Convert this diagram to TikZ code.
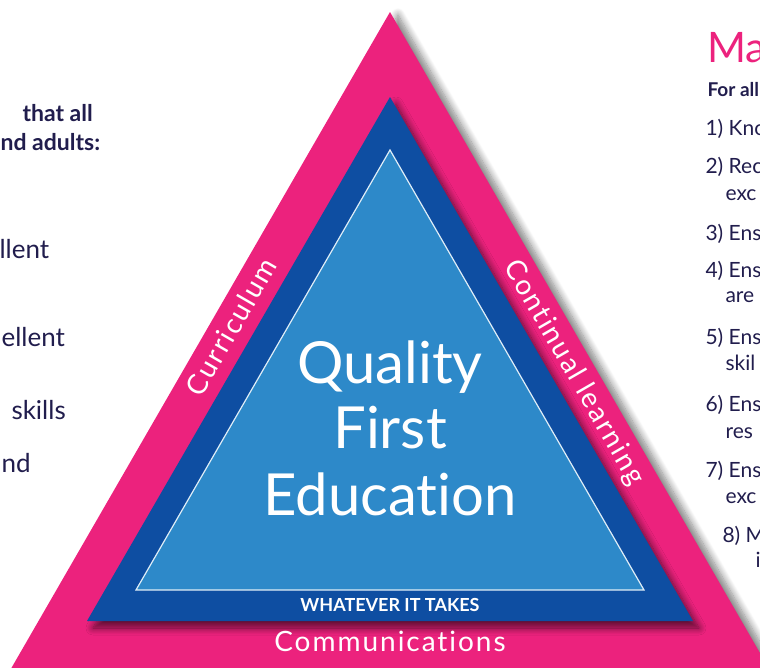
\documentclass[tikz,border=0pt]{standalone}
\usepackage{fontspec}
\setmainfont{Lato}[Ligatures={NoCommon,NoRequired,NoContextual}]
\usetikzlibrary{shadows.blur}
\definecolor{pink}{RGB}{236,34,125}
\definecolor{darkblue}{RGB}{14,78,162}
\definecolor{lightblue}{RGB}{45,137,201}
\definecolor{navy}{RGB}{33,29,77}

\begin{document}
\begin{tikzpicture}[x=1pt,y=-1pt,
        band/.style = {white, font=\fontsize{28}{28}\selectfont\addfontfeatures{LetterSpace=7}},
        big/.style = {white, anchor=base, font=\fontsize{58}{58}\selectfont},
        side/.style = {navy, anchor=base west, font=\fontsize{26}{26}\selectfont},
        lead/.style = {navy, anchor=base west, font=\fontsize{23}{23}\selectfont\bfseries},
        item/.style = {navy, anchor=base west, font=\fontsize{21}{21}\selectfont}]
        \useasboundingbox (0,0) rectangle (760,667);
        \clip (0,0) rectangle (760,667);

        % Outer triangle
        \coordinate (P1) at (390,12);
        \coordinate (P2) at (-14,712);
        \coordinate (P3) at (794,712);
        \fill[pink, blur shadow={shadow xshift=8pt, shadow yshift=-3pt, shadow opacity=50, shadow blur steps=10, shadow blur radius=7pt}] (P1) -- (P2) -- (P3) -- cycle;

        % Middle triangle
        \coordinate (B1) at (390,97);
        \coordinate (B2) at (87,621);
        \coordinate (B3) at (693,621);
        \fill[darkblue, blur shadow={shadow xshift=6pt, shadow yshift=-7pt, shadow opacity=60, shadow blur steps=10, shadow blur radius=7pt}] (B1) -- (B2) -- (B3) -- cycle;

        % Inner triangle
        \coordinate (L1) at (390,150);
        \coordinate (L2) at (136,590);
        \coordinate (L3) at (644,590);
        \draw[fill=lightblue, draw=white!85!lightblue, line width=1.2pt] (L1) -- (L2) -- (L3) -- cycle;

        % Centre text
        \node[big] (quality) at (390,383) {Quality};
        \node[big] (first) at (390,448) {First};
        \node[big] (education) at (390,515) {Education};

        % Band labels
        \node[band, rotate=60] (curriculum) at (231,327) {Curriculum};
        \node[band, rotate=-60] (continual) at (574,373) {Continual learning};
        \node[band, anchor=base] (communications) at (390,651) {Communications};
        \node[white, anchor=base, font=\fontsize{18}{18}\selectfont\bfseries] (whatever) at (390,611) {WHATEVER IT TAKES};

        % Left column
        \node[lead] (thatall) at (19,121) {that all};
        \node[lead] (adults) at (-3,150) {nd adults:};
        \node[side] (lent) at (-4,258) {llent};
        \node[side] (ellent) at (-2,346) {ellent};
        \node[side] (skills) at (8,419) {skills};
        \node[side] (nd) at (-2,472) {nd};

        % Right column
        \node[pink, anchor=base west, font=\fontsize{42}{42}\selectfont] (ma) at (704,62) {Ma};
        \node[lead, font=\fontsize{19}{19}\selectfont\bfseries] (forall) at (704,96) {For all};
        \node[item] (i1) at (702,135) {1) Kno};
        \node[item] (i2) at (702,173) {2) Rec};
        \node[item] (i2b) at (722,200) {exc};
        \node[item] (i3) at (702,240) {3) Ens};
        \node[item] (i4) at (702,277) {4) Ens};
        \node[item] (i4b) at (722,302) {are};
        \node[item] (i5) at (702,344) {5) Ens};
        \node[item] (i5b) at (722,370) {skil};
        \node[item] (i6) at (702,411) {6) Ens};
        \node[item] (i6b) at (722,438) {res};
        \node[item] (i7) at (702,477) {7) Ens};
        \node[item] (i7b) at (722,503) {exc};
        \node[item] (i8) at (719,542) {8) M};
        \node[item] (i8b) at (752,567) {i};
\end{tikzpicture}
\end{document}
